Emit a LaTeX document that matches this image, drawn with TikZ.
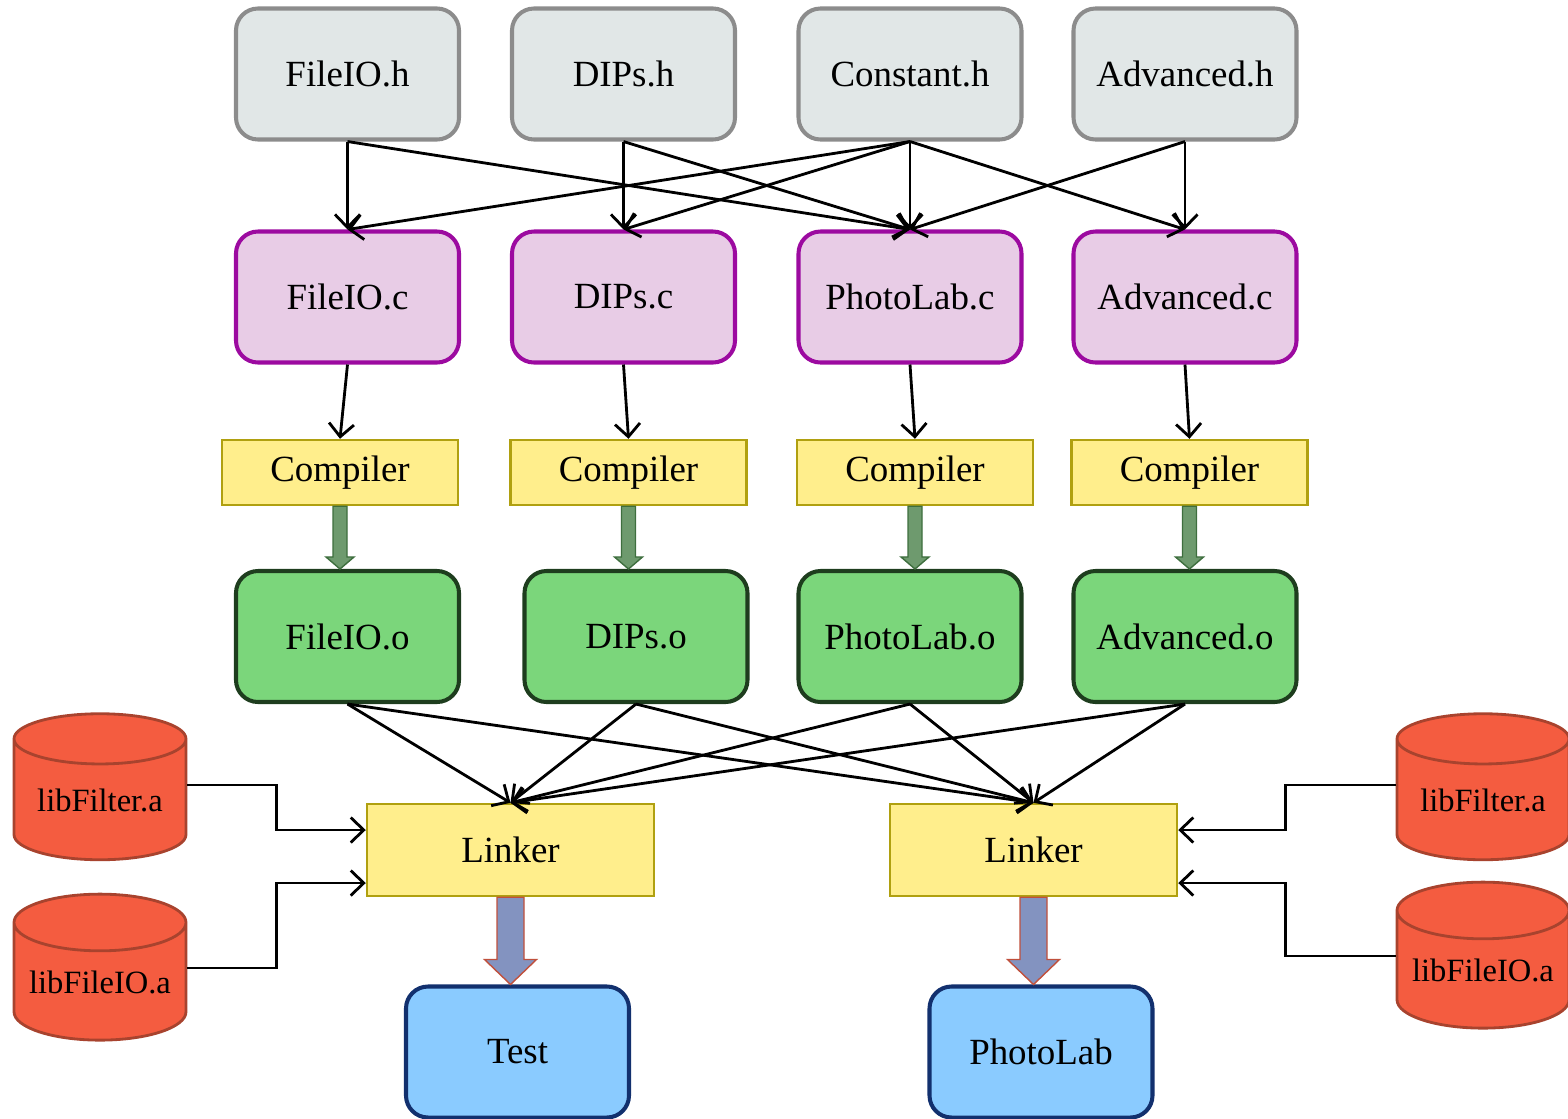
\documentclass[tikz,border=0pt]{standalone}
\usepackage{fontspec}
\setmainfont{Liberation Serif}
\usepackage{xcolor}
\usepackage{tikz}
\usetikzlibrary{arrows.meta}
\usetikzlibrary{calc}
\usetikzlibrary{shapes.geometric}

\definecolor{hdrfill}{HTML}{E1E7E7}
\definecolor{hdrline}{HTML}{8C8C8C}
\definecolor{srcfill}{HTML}{E8CCE6}
\definecolor{srcline}{HTML}{9C0AA0}
\definecolor{toolfill}{HTML}{FFEE8C}
\definecolor{toolline}{HTML}{B0A010}
\definecolor{objfill}{HTML}{7BD67B}
\definecolor{objline}{HTML}{1E3D1E}
\definecolor{exefill}{HTML}{8ACBFF}
\definecolor{exeline}{HTML}{12306E}
\definecolor{libfill}{HTML}{F45C40}
\definecolor{libline}{HTML}{A8432E}
\definecolor{fatgreen}{HTML}{6E9A6E}
\definecolor{fatgreenline}{HTML}{3E6E3E}
\definecolor{fatblue}{HTML}{8393C0}
\definecolor{fatblueline}{HTML}{C0503C}

\tikzset{
  box/.style={rounded corners=4.4mm, line width=2.3pt, inner sep=0pt,
    minimum width=44.6mm, minimum height=26.2mm, font=\fontsize{21}{25}\selectfont},
  hdr/.style={box, draw=hdrline, fill=hdrfill},
  src/.style={box, draw=srcline, fill=srcfill},
  obj/.style={box, draw=objline, fill=objfill},
  exe/.style={box, draw=exeline, fill=exefill},
  tool/.style={draw=toolline, fill=toolfill, line width=1.4pt, inner sep=0pt,
    minimum width=47.2mm, minimum height=13mm, font=\fontsize{21}{25}\selectfont},
  lnk/.style={tool, minimum width=57.4mm, minimum height=18.4mm},
  lib/.style={cylinder, shape border rotate=90, aspect=0.4, draw=libline, fill=libfill,
    line width=1.6pt, inner sep=0pt, minimum width=34.4mm, minimum height=29.2mm,
    font=\fontsize{18.5}{22}\selectfont},
  wire/.style={line width=1.6pt, -{Straight Barb[length=2.6mm, width=5mm]}},
  fatobj/.style={fill=fatgreen, draw=fatgreenline, line width=0.8pt},
  fatexe/.style={fill=fatblue, draw=fatblueline, line width=0.8pt},
}

% block arrow from #2 down to #3: shaft half width #4, head half width #5, head length #6
\newcommand{\blockarrow}[6]{%
  \coordinate (tip) at (#2.south |- #3.north);
  \draw[#1] ($(#2.south)+(-#4,0)$) -- ($(tip)+(-#4,-#6)$) -- ($(tip)+(-#5,-#6)$) -- (tip)
    -- ($(tip)+(#5,-#6)$) -- ($(tip)+(#4,-#6)$) -- ($(#2.south)+(#4,0)$) -- cycle;}

\begin{document}
\begin{tikzpicture}[x=0.2mm,y=-0.2mm]
\useasboundingbox (0,0) rectangle (1568,1118);

% headers
\node[hdr] (hFileIO) at (347.5,74) {FileIO.h};
\node[hdr] (hDIPs) at (623.5,74) {DIPs.h};
\node[hdr] (hConst) at (910,74) {Constant.h};
\node[hdr] (hAdv) at (1185,74) {Advanced.h};

% sources
\node[src] (cFileIO) at (347.5,297) {FileIO.c};
\node[src] (cDIPs) at (623.5,297) {DIPs.c};
\node[src] (cPhoto) at (910,297) {PhotoLab.c};
\node[src] (cAdv) at (1185,297) {Advanced.c};

% compilers
\node[tool] (compA) at (340,472.5) {Compiler};
\node[tool] (compB) at (628.5,472.5) {Compiler};
\node[tool] (compC) at (915,472.5) {Compiler};
\node[tool] (compD) at (1189.5,472.5) {Compiler};

% objects
\node[obj] (oFileIO) at (347.5,636.5) {FileIO.o};
\node[obj] (oDIPs) at (636,636.5) {DIPs.o};
\node[obj] (oPhoto) at (910,636.5) {PhotoLab.o};
\node[obj] (oAdv) at (1185,636.5) {Advanced.o};

% linkers and executables
\node[lnk] (linkA) at (510.5,850) {Linker};
\node[lnk] (linkB) at (1033.5,850) {Linker};
\node[exe] (test) at (517.5,1052) {Test};
\node[exe] (photolab) at (1041,1052) {PhotoLab};

% libraries
\node[lib] (libFA) at (100,800) {libFilter.a};
\node[lib] (libIOA) at (100,982) {libFileIO.a};
\node[lib] (libFB) at (1483,800) {libFilter.a};
\node[lib] (libIOB) at (1483,970) {libFileIO.a};

% includes
\draw[wire] (hFileIO.south) -- (cFileIO.north);
\draw[wire] (hFileIO.south) -- (cPhoto.north);
\draw[wire] (hDIPs.south) -- (cDIPs.north);
\draw[wire] (hDIPs.south) -- (cPhoto.north);
\draw[wire] (hConst.south) -- (cFileIO.north);
\draw[wire] (hConst.south) -- (cDIPs.north);
\draw[wire] (hConst.south) -- (cPhoto.north);
\draw[wire] (hConst.south) -- (cAdv.north);
\draw[wire] (hAdv.south) -- (cPhoto.north);
\draw[wire] (hAdv.south) -- (cAdv.north);

% into the compilers
\draw[wire] (cFileIO.south) -- (compA.north);
\draw[wire] (cDIPs.south) -- (compB.north);
\draw[wire] (cPhoto.south) -- (compC.north);
\draw[wire] (cAdv.south) -- (compD.north);

\blockarrow{fatobj}{compA}{oFileIO}{7}{14}{12}
\blockarrow{fatobj}{compB}{oDIPs}{7}{14}{12}
\blockarrow{fatobj}{compC}{oPhoto}{7}{14}{12}
\blockarrow{fatobj}{compD}{oAdv}{7}{14}{12}

% objects into the linkers
\draw[wire] (oFileIO.south) -- (linkA.north);
\draw[wire] (oFileIO.south) -- (linkB.north);
\draw[wire] (oDIPs.south) -- (linkA.north);
\draw[wire] (oDIPs.south) -- (linkB.north);
\draw[wire] (oPhoto.south) -- (linkA.north);
\draw[wire] (oPhoto.south) -- (linkB.north);
\draw[wire] (oAdv.south) -- (linkA.north);
\draw[wire] (oAdv.south) -- (linkB.north);

% libraries into the linkers
\draw[wire] ([yshift=3mm]libFA.east) -- ++(89,0) |- ([yshift=4mm]linkA.west);
\draw[wire] ([yshift=2.8mm]libIOA.east) -- ++(89,0) |- ([yshift=-6.6mm]linkA.west);
\draw[wire] ([yshift=3mm]libFB.west) -- ++(-110,0) |- ([yshift=4mm]linkB.east);
\draw[wire] ([yshift=2.8mm]libIOB.west) -- ++(-110,0) |- ([yshift=-6.6mm]linkB.east);

\blockarrow{fatexe}{linkA}{test}{13.5}{26}{25}
\blockarrow{fatexe}{linkB}{photolab}{13.5}{26}{25}
\end{tikzpicture}
\end{document}
